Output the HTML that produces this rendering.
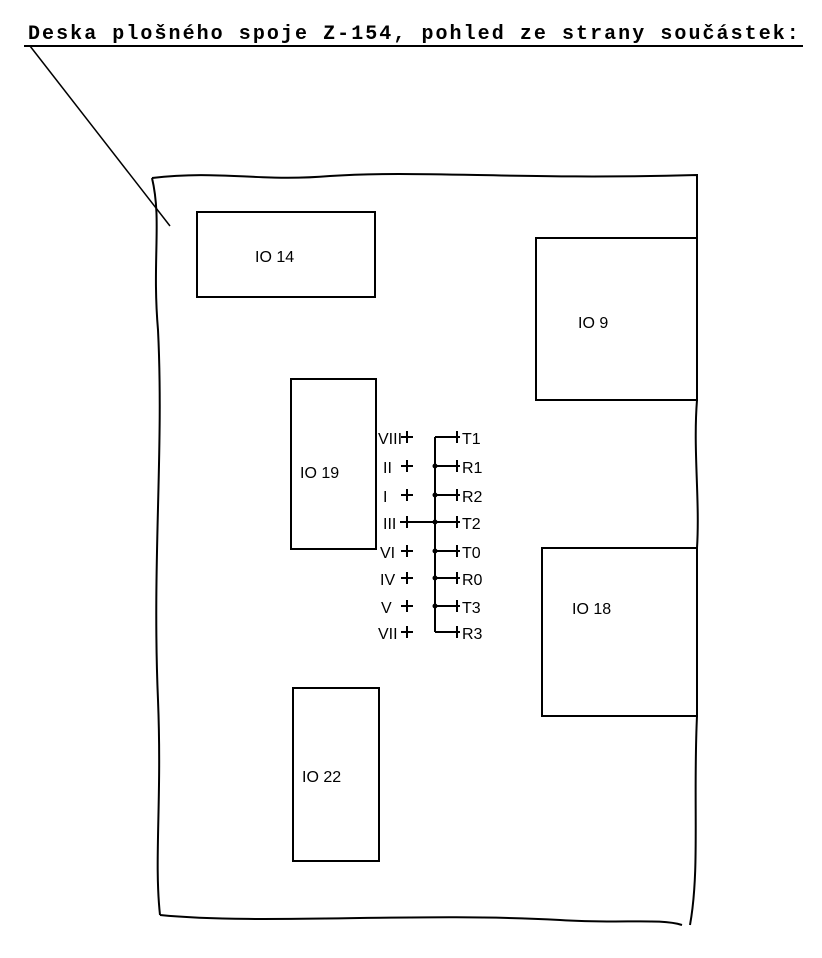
<!DOCTYPE html>
<html><head><style>
body{margin:0;background:#fff;width:822px;height:958px;overflow:hidden;position:relative}
svg{position:absolute;left:0;top:0}
text{font-family:"Liberation Sans",sans-serif;fill:#000}
</style></head><body>
<svg width="822" height="958" viewBox="0 0 822 958">
<text x="28" y="39" style="font-family:'Liberation Mono',monospace;font-size:20px;letter-spacing:2.05px;font-weight:bold">Deska plošného spoje Z-154, pohled ze strany součástek:</text>
<line x1="24" y1="46" x2="803" y2="46" stroke="#000" stroke-width="2"/>
<line x1="30" y1="46" x2="170" y2="226" stroke="#000" stroke-width="1.5"/>
<g fill="none" stroke="#000" stroke-width="2">
<path d="M152,178 C220,170 260,182 330,176 C420,170 520,180 697,175 L697,238"/>
<path d="M697,400 C693,450 700,500 697,548"/>
<path d="M697,716 C693,800 700,870 690,925"/>
<path d="M152,178 C162,220 152,260 158,330 C164,450 152,560 158,700 C162,800 154,860 160,915"/>
<path d="M160,915 C260,925 420,912 560,920 C620,924 660,918 682,925"/>
<rect x="197" y="212" width="178" height="85"/>
<rect x="536" y="238" width="161" height="162"/>
<rect x="291" y="379" width="85" height="170"/>
<rect x="542" y="548" width="155" height="168"/>
<rect x="293" y="688" width="86" height="173"/>
<path d="M435,437 L435,632"/>
<path d="M435,437 H460 M435,466 H460 M435,495 H460 M435,522 H460 M435,551 H460 M435,578 H460 M435,606 H460 M435,632 H460"/>
<path d="M400,522 H435"/>
<path d="M457,431 V443 M457,460 V472 M457,489 V501 M457,516 V528 M457,545 V557 M457,572 V584 M457,600 V612 M457,626 V638"/>
<path d="M401,437 H413 M407,431 V443 M401,466 H413 M407,460 V472 M401,495 H413 M407,489 V501 M401,522 H413 M407,516 V528 M401,551 H413 M407,545 V557 M401,578 H413 M407,572 V584 M401,606 H413 M407,600 V612 M401,632 H413 M407,626 V638"/>
</g>
<g fill="#000">
<circle cx="435" cy="466" r="2.5"/><circle cx="435" cy="495" r="2.5"/><circle cx="435" cy="522" r="2.5"/><circle cx="435" cy="551" r="2.5"/><circle cx="435" cy="578" r="2.5"/><circle cx="435" cy="606" r="2.5"/>
</g>
<g font-size="16">
<text x="255" y="262">IO 14</text>
<text x="578" y="328">IO 9</text>
<text x="300" y="478">IO 19</text>
<text x="572" y="614">IO 18</text>
<text x="302" y="782">IO 22</text>
</g>
<g font-size="16">
<text x="378" y="444">VIII</text><text x="383" y="473">II</text><text x="383" y="502">I</text><text x="383" y="529">III</text>
<text x="380" y="558">VI</text><text x="380" y="585">IV</text><text x="381" y="613">V</text><text x="378" y="639">VII</text>
<text x="462" y="444">T1</text><text x="462" y="473">R1</text><text x="462" y="502">R2</text><text x="462" y="529">T2</text>
<text x="462" y="558">T0</text><text x="462" y="585">R0</text><text x="462" y="613">T3</text><text x="462" y="639">R3</text>
</g>
</svg>
</body></html>
